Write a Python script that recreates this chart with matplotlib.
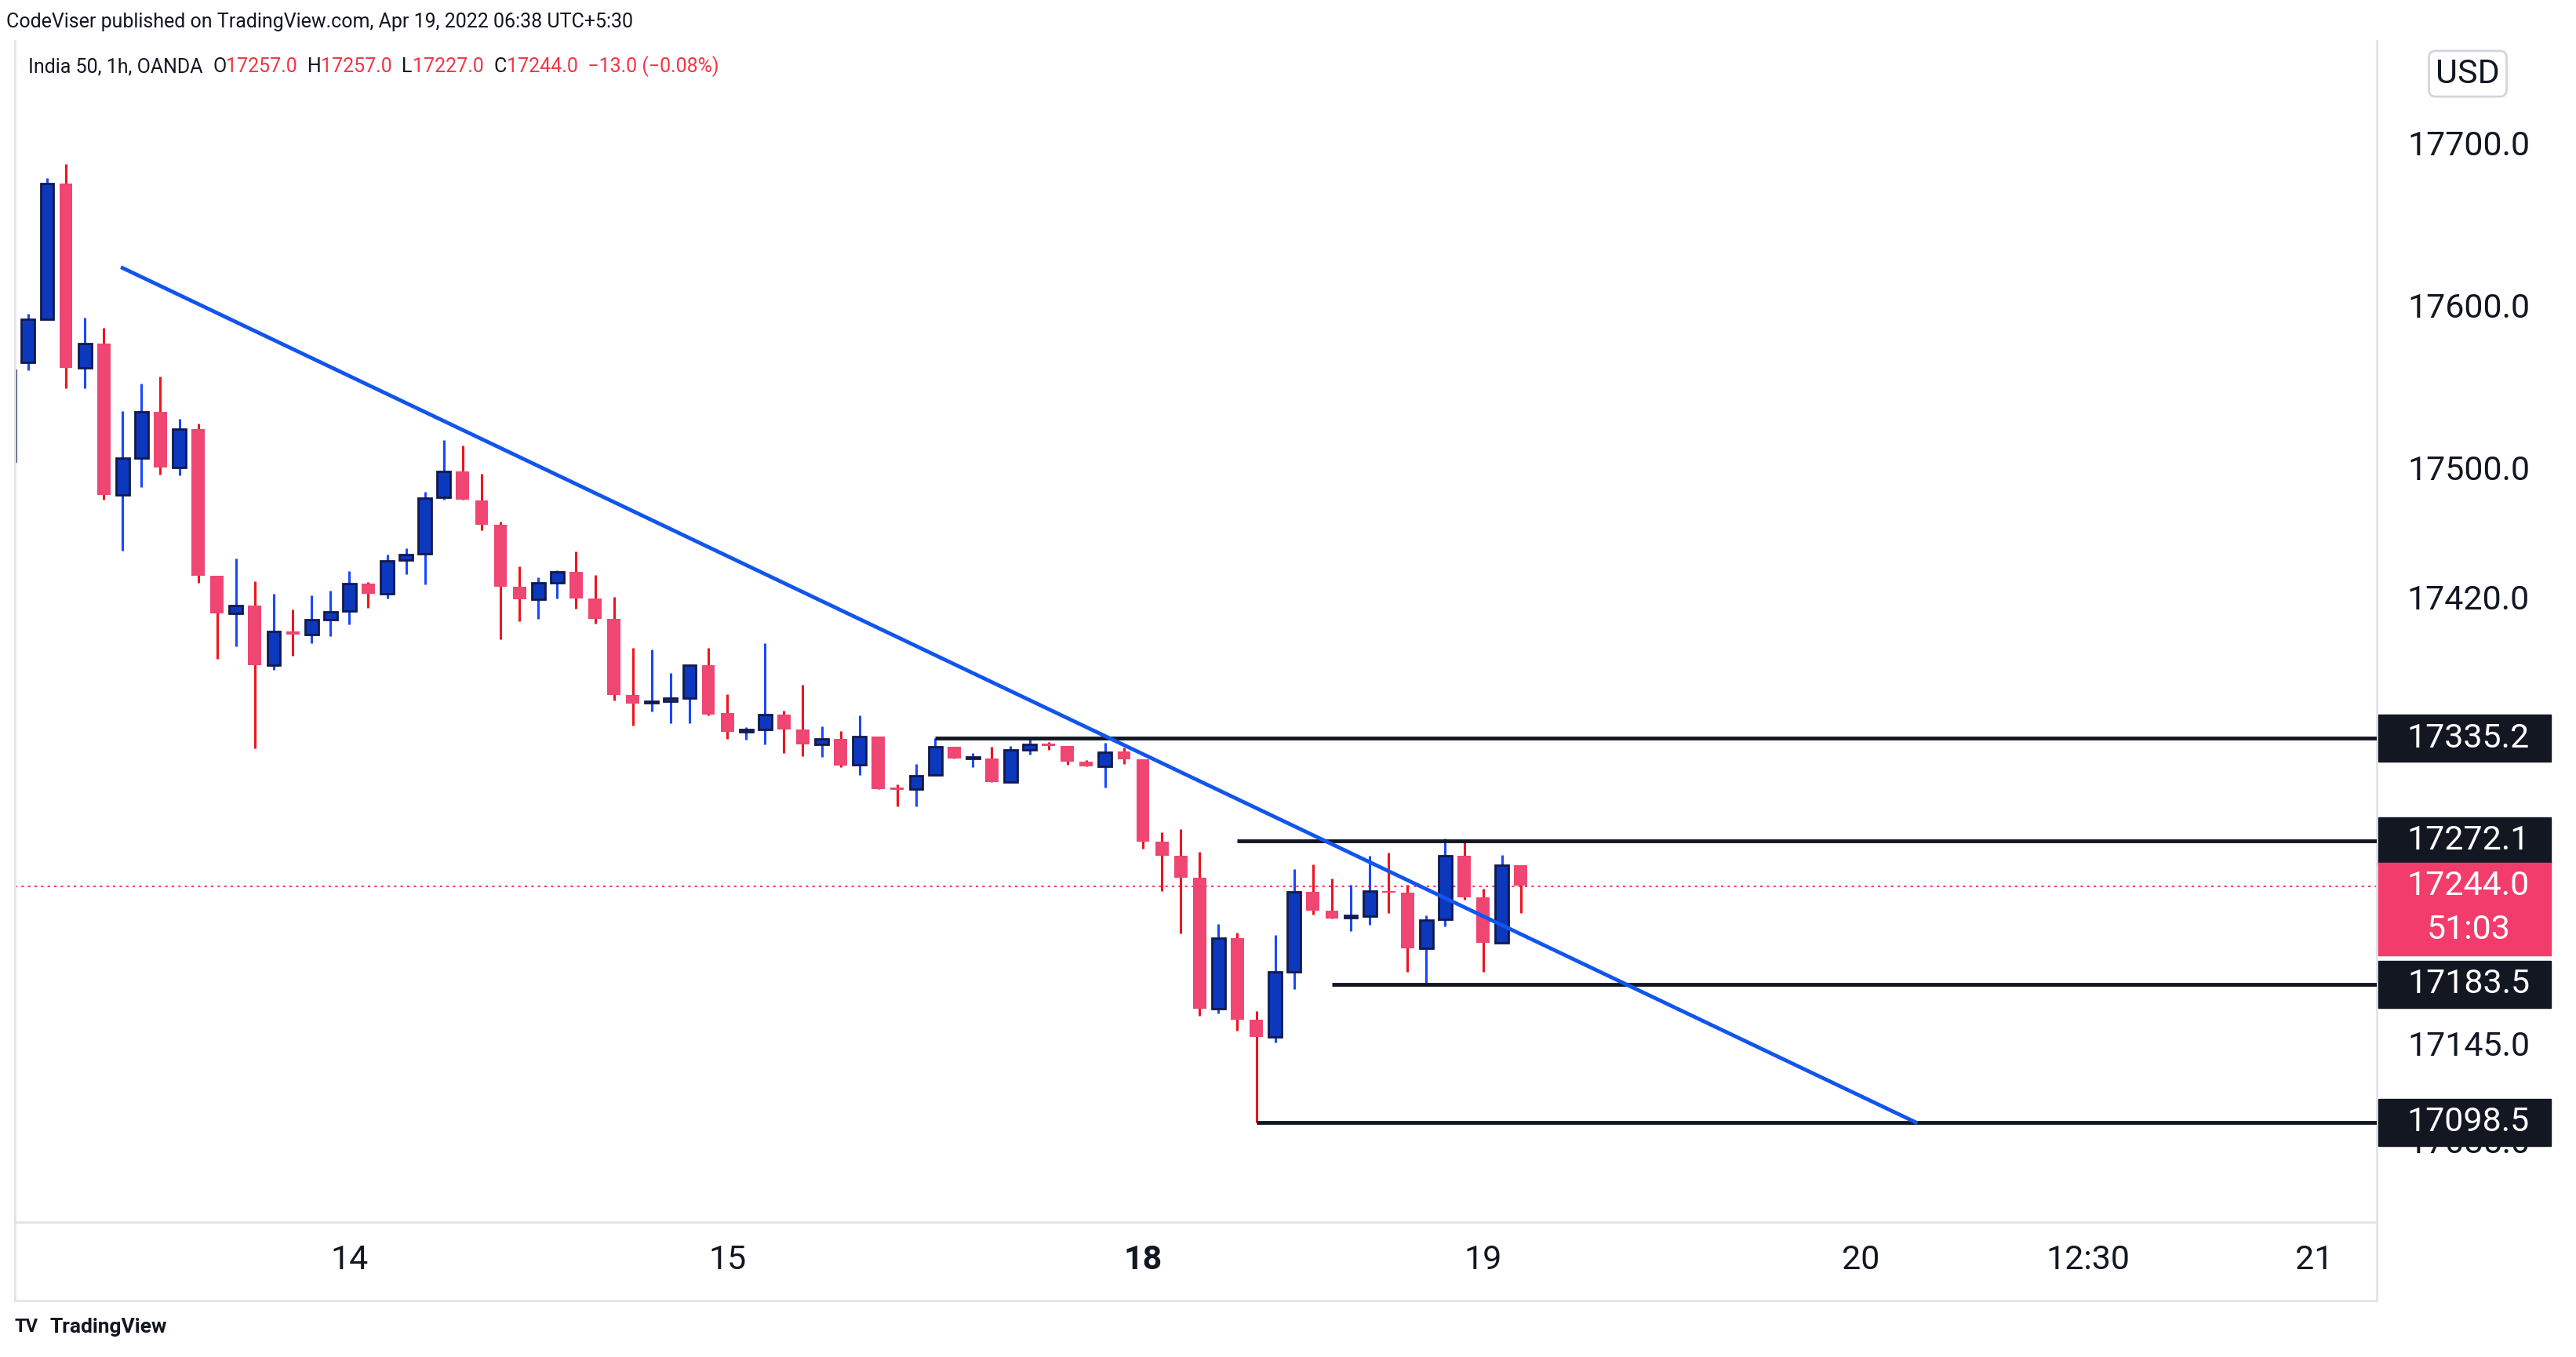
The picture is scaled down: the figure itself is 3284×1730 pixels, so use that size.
import matplotlib
matplotlib.use("Agg")
import matplotlib.pyplot as plt
from matplotlib.patches import Rectangle
from matplotlib.transforms import blended_transform_factory

opens = [17506,17566.9,17593.3,17677.0,17563.5,17578.5,17485.2,17507.9,17536.5,17502.1,17525.9,17435.3,17412.1,17417.0,17380.2,17401.2,17399.3,17408.3,17413.8,17430.7,17424.1,17445.1,17448.7,17483.6,17499.7,17481.7,17466.7,17428.5,17420.6,17431.2,17437.8,17421.4,17408.9,17361.7,17356.8,17358.1,17359.8,17380.0,17350.5,17339.1,17340.7,17349.7,17340.7,17331.4,17335.0,17318.6,
         17336.3,17303.8,17303.6,17312.3,17329.7,17322.5,17322.7,17308.3,17328.2,17331.6,17330.5,17320.8,17317.8,17326.9,17322.1,17271.6,17262.7,17249.3,17168.5,17211.8,17161.5,17150.9,17191.0,17240.4,17229.0,17224.7,17225.6,17241.0,17239.8,17205.8,17223.4,17262.9,17237.0,17209.0,17256.9]
highs = [17534,17596.9,17680.3,17689.3,17594.3,17588.0,17536.8,17553.7,17558.0,17531.9,17529.1,17435.3,17446.0,17432.1,17424.1,17414.6,17423.1,17426.3,17438.3,17431.5,17448.4,17452.0,17487.1,17519.0,17515.8,17498.0,17468.6,17441.1,17434.5,17438.9,17450.3,17435.9,17422.2,17390.9,17389.8,17375.6,17380.8,17390.9,17362.2,17341.8,17393.6,17352.2,17368.0,17342.6,17339.6,17349.4,
         17336.3,17306.6,17319.3,17335.2,17329.7,17326.1,17329.9,17330.3,17334.6,17332.9,17330.5,17321.9,17332.5,17329.5,17322.1,17277.1,17279.4,17265.2,17220.7,17215.6,17167.2,17213.7,17254.4,17257.6,17248.7,17244.7,17262.7,17264.8,17245.1,17226.0,17273.5,17271.4,17242.5,17263.1,17256.9]
lows = [17480,17562.1,17593.3,17550.8,17550.7,17482.0,17450.9,17489.9,17497.5,17497.0,17431.2,17384.1,17392.0,17329.2,17377.2,17386.2,17393.9,17398.2,17405.3,17415.7,17421.4,17436.2,17430.1,17482.0,17482.0,17463.4,17396.3,17407.2,17408.6,17421.1,17414.9,17405.9,17358.4,17343.1,17351.6,17344.5,17344.5,17349.2,17335.0,17334.2,17331.2,17326.0,17324.1,17323.5,17317.2,17312.6,
        17303.6,17293.0,17293.4,17312.3,17322.5,17317.2,17308.3,17307.6,17325.2,17327.8,17318.9,17317.8,17304.9,17319.3,17266.9,17241.0,17215.0,17164.3,17165.7,17155.1,17098.5,17147.7,17180.8,17226.4,17224.1,17216.4,17220.3,17227.7,17191.0,17184.2,17219.2,17235.5,17191.0,17209.0,17227.3]
closes = [17562,17593.3,17677.0,17563.5,17578.2,17485.2,17507.6,17536.5,17501.9,17525.9,17435.3,17411.9,17417.0,17380.2,17401.0,17399.3,17408.1,17413.2,17430.4,17424.1,17444.6,17448.4,17483.0,17499.4,17482.0,17466.7,17428.5,17420.6,17431.0,17437.5,17421.4,17408.9,17361.7,17356.5,17357.9,17359.8,17380.0,17350.0,17339.1,17340.7,17349.7,17340.7,17331.4,17335.0,17318.3,17336.3,
          17303.6,17303.4,17312.1,17329.7,17322.5,17323.0,17308.3,17328.2,17331.6,17330.5,17320.6,17317.8,17326.7,17322.1,17271.6,17262.7,17249.3,17168.5,17211.8,17161.5,17150.9,17191.0,17240.4,17229.0,17224.1,17225.1,17241.0,17239.8,17205.8,17223.0,17262.9,17237.0,17209.0,17256.9,17244.2]

xtick_pos = [18, 38, 60, 78, 98, 110, 122]
xtick_labels = ["14", "15", "18", "19", "20", "12:30", "21"]
ytick_vals = [17700, 17600, 17500, 17420, 17145, 17085]
level_prices = [17335.2, 17272.1, 17183.5, 17098.5]
level_starts = [49, 65, 70, 66]
trend_x = [6, 100.9]
trend_y = [17625, 17098.5]
last_price = 17244.0

UP_BODY = "#0b38bd"; UP_EDGE = "#131a4a"; UP_WICK = "#1848ff"
DN_BODY = "#ef4673"; DN_WICK = "#f0141e"

W, H = 3284, 1730
fig = plt.figure(figsize=(W/100, H/100), dpi=100)
plt.rcParams["font.family"] = "Roboto"
L, R, B, T = 19/W, 3030/W, 1 - 1558/H, 1 - 52/H
ax = fig.add_axes([L, B, R-L, T-B])
ax.set_xlim(0.3, 125.3)
ax.set_ylim(17037, 17765)

for i, (o, h, l, c) in enumerate(zip(opens, highs, lows, closes)):
    up = c >= o
    ax.vlines(i, l, h, color=UP_WICK if up else DN_WICK, lw=2.2, zorder=2)
    bot = min(o, c); ht = max(abs(c - o), 1.2)
    if up:
        ax.bar(i, ht, bottom=bot, width=0.7, color=UP_BODY, edgecolor=UP_EDGE, lw=2, zorder=3)
    else:
        ax.bar(i, ht, bottom=bot, width=0.7, color=DN_BODY, lw=0, zorder=3)

for p, s in zip(level_prices, level_starts):
    ax.plot([s, 125.3], [p, p], color="#131722", lw=3.5, zorder=4, solid_capstyle="butt")
ax.plot(trend_x, trend_y, color="#1155ee", lw=3.5, zorder=4)
ax.axhline(last_price, color="#f23d6c", lw=1.5, ls=(0, (1.5, 2.5)), zorder=1)

for s in ["top", "left"]:
    ax.spines[s].set_visible(False)
ax.spines["right"].set_color("#e0e3eb"); ax.spines["bottom"].set_color("#e0e3eb")
ax.spines["right"].set_linewidth(2); ax.spines["bottom"].set_linewidth(2)
ax.set_yticks([]); ax.set_xticks([])

FS = 31
trx = blended_transform_factory(ax.transData, fig.transFigure)
for xp, lab in zip(xtick_pos, xtick_labels):
    fig.text(xp, 1 - 1606/H, lab, transform=trx, ha="center", va="center", fontsize=FS,
             color="#131722", fontweight="bold" if lab == "18" else "normal")
fig.add_artist(plt.Line2D([L, R], [1 - 1658/H]*2, color="#e0e3eb", lw=2))
fig.add_artist(plt.Line2D([L, L], [1 - 1658/H, T], color="#e0e3eb", lw=2))
fig.add_artist(plt.Line2D([R, R], [1 - 1658/H, 1 - 1558/H], color="#e0e3eb", lw=2))

try_ = blended_transform_factory(fig.transFigure, ax.transData)
xc = 3147 / W
for v in ytick_vals:
    fig.text(xc, v, f"{v:.1f}", transform=try_, ha="center", va="center", fontsize=FS, color="#131722")

def box(price, label, color, h=60):
    yc = ax.transData.transform((0, price))[1] / H
    fig.add_artist(Rectangle((3032/W, yc - h/2/H), 220/W, h/H, transform=fig.transFigure,
                             color=color, zorder=5))
    fig.text(xc, yc, label, ha="center", va="center", fontsize=FS, color="white", zorder=6)

for p in level_prices:
    box(p, f"{p:.1f}", "#131722")
yc0 = ax.transData.transform((0, last_price))[1] / H
fig.add_artist(Rectangle((3032/W, yc0 - 88/H), 220/W, 118/H, transform=fig.transFigure, color="#f23d6c", zorder=7))
fig.text(xc, yc0, f"{last_price:.1f}", ha="center", va="center", fontsize=FS, color="white", zorder=8)
fig.text(xc, yc0 - 56/H, "51:03", ha="center", va="center", fontsize=FS, color="white", zorder=8)

fig.text(3146/W, 1 - 94/H, "USD", ha="center", va="center", fontsize=FS, color="#131722",
         bbox=dict(boxstyle="round,pad=0.2", fc="white", ec="#d1d4dc", lw=2))

fig.text(8/W, 1 - 28/H, "CodeViser published on TradingView.com, Apr 19, 2022 06:38 UTC+5:30",
         fontsize=18, va="center", color="#131722")
hx = 36/W; hy = 1 - 85/H
parts = [("India 50, 1h, OANDA  ", "#131722"), ("O", "#131722"), ("17257.0  ", "#f23645"),
         ("H", "#131722"), ("17257.0  ", "#f23645"), ("L", "#131722"), ("17227.0  ", "#f23645"),
         ("C", "#131722"), ("17244.0  −13.0 (−0.08%)", "#f23645")]
fig.canvas.draw()
rend = fig.canvas.get_renderer()
for txt, col in parts:
    t = fig.text(hx, hy, txt, fontsize=18, va="center", color=col)
    bb = t.get_window_extent(rend)
    hx += bb.width / W
fig.text(18/W, 1 - 1692/H, "TV", fontsize=17, va="center", color="#131722", fontweight="bold")
fig.text(64/W, 1 - 1692/H, "TradingView", fontsize=19, va="center", color="#131722", fontweight="bold")

fig.savefig("out.png", dpi=100, facecolor="white")
